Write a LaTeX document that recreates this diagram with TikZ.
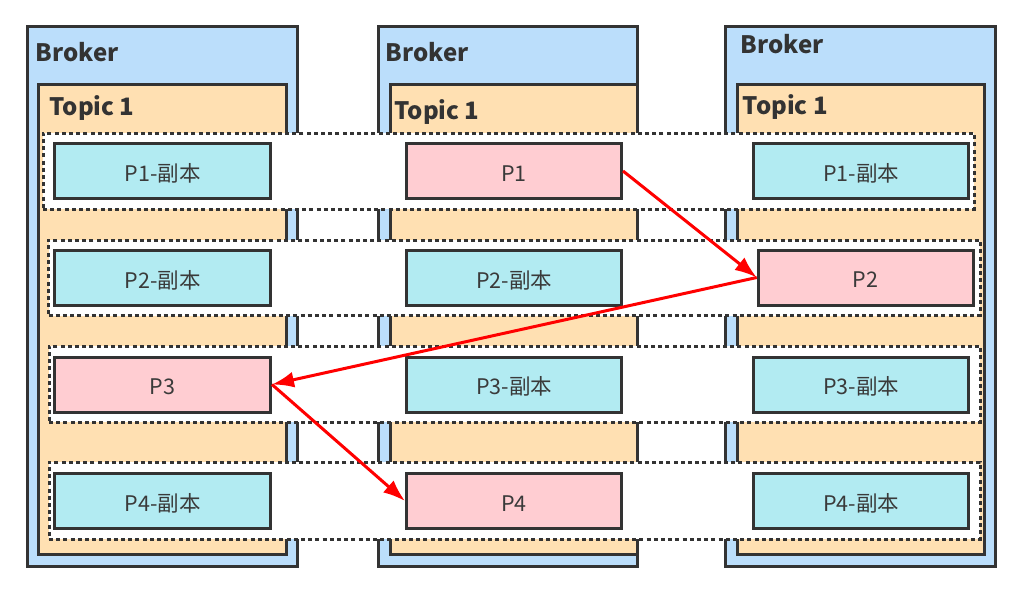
\documentclass[tikz,border=0pt]{standalone}
\usepackage{fontspec}
\setmainfont{Noto Sans CJK SC}
\usetikzlibrary{arrows.meta}
\definecolor{brk}{HTML}{BBDEFB}
\definecolor{tpc}{HTML}{FFE0B2}
\definecolor{rep}{HTML}{B2EBF2}
\definecolor{lead}{HTML}{FFCDD2}
\definecolor{ln}{HTML}{333333}
\definecolor{txt}{HTML}{3A3A3A}
\begin{document}
\begin{tikzpicture}[x=1pt,y=-1pt,
  box/.style={draw=ln,line width=3pt,rectangle,inner sep=0pt},
  brokerbox/.style={box,fill=brk,minimum height=540pt},
  topicbox/.style={box,fill=tpc,minimum height=470pt},
  rowbox/.style={draw=ln,fill=white,line width=3pt,dash pattern=on 4pt off 3.2pt,rectangle,inner sep=0pt},
  partbox/.style={box,minimum width=215pt,minimum height=55pt,font=\fontsize{21.5}{24}\selectfont,text=txt,text height=20.8pt,text depth=0pt},
  repbox/.style={partbox,fill=rep},
  leadbox/.style={partbox,fill=lead},
  title/.style={anchor=base west,inner sep=0pt,font=\fontsize{24}{28}\selectfont\bfseries,text=ln},
  flow/.style={draw=red,line width=3pt,-{Latex[length=22pt,width=16pt]}}
]
\useasboundingbox (0,0) rectangle (1025,589);
% brokers
\node[brokerbox,minimum width=270pt] (b1) at (162.5,296.5) {};
\node[brokerbox,minimum width=259pt] (b2) at (508,296.5) {};
\node[brokerbox,minimum width=270pt] (b3) at (860.5,296.5) {};
% topics
\node[topicbox,minimum width=248pt] (t1) at (162.5,319.5) {};
\node[topicbox,minimum width=246.5pt] (t2) at (513.75,319.5) {};
\node[topicbox,minimum width=247pt] (t3) at (861,319.5) {};
% titles
\node[title] (bl1) at (35.7,61) {Broker};
\node[title] (bl2) at (385.7,61) {Broker};
\node[title] (bl3) at (740.7,53.5) {Broker};
\node[title] (tl1) at (49.3,115) {Topic 1};
\node[title] (tl2) at (394.3,119.5) {Topic 1};
\node[title] (tl3) at (742.7,114.5) {Topic 1};
% dashed rows
\node[rowbox,minimum width=931pt,minimum height=76pt] (r1) at (508.5,171) {};
\node[rowbox,minimum width=931.5pt,minimum height=75.5pt] (r2) at (514.25,277.75) {};
\node[rowbox,minimum width=931pt,minimum height=76pt] (r3) at (514.5,384) {};
\node[rowbox,minimum width=931pt,minimum height=77pt] (r4) at (514.5,500.5) {};
% partitions
\node[repbox,minimum width=216pt] (a1) at (162.5,171) {P1-副本};
\node[repbox,minimum width=216pt] (a2) at (162.5,278) {P2-副本};
\node[leadbox,minimum width=216pt] (a3) at (162.5,384.5) {P3};
\node[repbox,minimum width=216pt] (a4) at (162.5,501) {P4-副本};
\node[leadbox] (m1) at (514,171) {P1};
\node[repbox] (m2) at (514,278) {P2-副本};
\node[repbox] (m3) at (514,384.5) {P3-副本};
\node[leadbox] (m4) at (514,501) {P4};
\node[repbox] (c1) at (861,171) {P1-副本};
\node[leadbox] (c2) at (865.75,277.5) {P2};
\node[repbox] (c3) at (861,384.5) {P3-副本};
\node[repbox] (c4) at (861,501) {P4-副本};
% arrows
\draw[flow] (m1.east) -- (c2.west);
\draw[flow] (c2.west) -- (a3.east);
\draw[flow] (a3.east) -- (m4.west);
\end{tikzpicture}
\end{document}
